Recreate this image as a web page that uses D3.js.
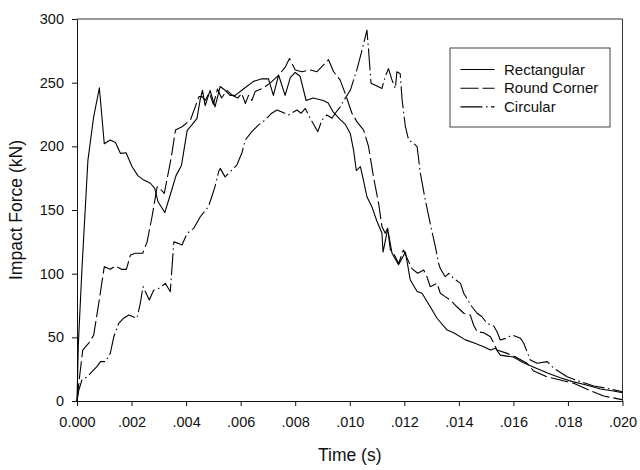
<!DOCTYPE html>
<html>
<head>
<meta charset="utf-8">
<script src="https://cdn.jsdelivr.net/npm/d3@7"></script>
<style>
  body { margin: 0; background: #fff; }
  svg { font-family: "Liberation Sans", Arial, sans-serif; }
</style>
</head>
<body>
<svg id="chart" width="640" height="470"></svg>
<script>
// [time (ms), impact force (kN)]
const rectangular = [
  [0, 0], [0.05, 45], [0.18, 103], [0.40, 189], [0.61, 223], [0.82, 246],
  [1.00, 202], [1.22, 205], [1.41, 203], [1.59, 194.5], [1.80, 195],
  [2.02, 184], [2.23, 177], [2.45, 173.5], [2.69, 171], [2.85, 167], [2.97, 156.5],
  [3.22, 148], [3.42, 162], [3.63, 177], [3.83, 185],
  [4.04, 212.5], [4.22, 217], [4.40, 222], [4.51, 236], [4.60, 244], [4.70, 232], [4.88, 244],
  [5.06, 231], [5.25, 247], [5.43, 244], [5.61, 240], [5.80, 240],
  [6.10, 245], [6.47, 251], [6.78, 253],
  [7.02, 253], [7.20, 240], [7.39, 256], [7.63, 240], [7.82, 254],
  [8.00, 258], [8.18, 255], [8.40, 236], [8.66, 238],
  [9.03, 236], [9.21, 234], [9.39, 227], [9.65, 221], [9.83, 217.5],
  [10.02, 210], [10.14, 197], [10.24, 181], [10.39, 184], [10.50, 173.5], [10.63, 160.4], [10.81, 152.6],
  [11.00, 141], [11.18, 132], [11.22, 117], [11.39, 135], [11.55, 116], [11.79, 107],
  [12.04, 117], [12.22, 95], [12.47, 86], [12.65, 84.6], [12.95, 74],
  [13.20, 65], [13.57, 55.7], [13.81, 53.6],
  [14.24, 48], [14.54, 45.8], [14.91, 42.6],
  [15.16, 40], [15.34, 41.4], [15.52, 36],
  [16.00, 34.5], [16.37, 30], [16.73, 26.7],
  [17.25, 22], [17.72, 18.3], [18.17, 15.2], [18.68, 12.6],
  [19.19, 9.4], [19.67, 7.9], [20.00, 6.5]
];

const roundCorner = [
  [0, 0], [0.08, 16.5], [0.21, 40], [0.43, 45.5], [0.61, 51.6], [0.80, 77],
  [1.00, 105.5], [1.22, 103.4], [1.41, 106], [1.63, 103.4], [1.81, 103.4], [1.96, 114.7],
  [2.14, 116], [2.41, 116], [2.57, 125], [2.75, 144.7], [2.94, 168.3],
  [3.09, 165.7], [3.20, 163], [3.46, 191.8], [3.61, 212.8], [3.85, 215.4],
  [4.16, 220.7], [4.47, 239], [4.59, 239], [4.70, 236], [4.85, 242],
  [5.00, 233], [5.15, 245], [5.30, 238], [5.50, 244], [5.70, 240], [5.90, 238],
  [6.04, 241.6], [6.17, 233.7], [6.29, 240], [6.41, 236], [6.53, 243], [6.84, 246],
  [7.10, 250], [7.40, 256], [7.63, 262], [7.79, 269],
  [8.00, 260], [8.25, 258.6], [8.55, 260], [8.80, 258.6],
  [9.04, 264], [9.22, 268], [9.41, 258.6], [9.65, 252], [9.83, 241.6],
  [10.08, 226], [10.26, 219.4], [10.51, 212.8], [10.69, 199.7], [10.87, 176],
  [11.06, 155], [11.18, 137], [11.30, 131.7], [11.39, 135.6], [11.49, 118.6], [11.61, 116], [11.79, 108],
  [11.97, 118.6], [12.16, 109.4], [12.28, 104], [12.49, 100.3], [12.71, 102.9], [12.83, 97.6], [12.95, 89.8],
  [13.20, 92.4], [13.32, 84.6], [13.50, 82], [13.69, 79.3], [13.93, 74],
  [14.18, 68.9], [14.42, 67.5], [14.54, 59.7], [14.67, 54.4], [14.91, 53.6],
  [15.16, 50.5], [15.40, 40], [15.77, 37.4], [16.07, 34.8], [16.50, 29.6], [16.73, 23.8],
  [17.24, 19], [17.72, 16.5], [18.21, 13.9], [18.70, 9.2],
  [19.31, 3.9], [19.93, 1.3], [20.00, 1]
];

const circular = [
  [0, 0], [0.06, 8], [0.18, 16.5], [0.37, 19], [0.55, 23], [0.73, 27], [0.86, 30.9],
  [1.04, 30.9], [1.22, 37.4], [1.35, 50.5], [1.53, 61], [1.71, 65], [1.90, 67.5],
  [2.20, 65], [2.32, 76.7], [2.42, 89.8], [2.65, 79.3], [2.81, 87],
  [3.00, 88.5], [3.24, 92.4], [3.42, 85.8], [3.55, 125], [3.71, 123.8], [3.85, 122.5],
  [4.04, 131.7], [4.28, 135.6], [4.52, 144.7], [4.82, 152.6], [4.94, 160.4],
  [5.06, 168.3], [5.19, 180], [5.25, 182.7], [5.43, 176], [5.61, 180], [5.86, 185.3],
  [6.04, 194.5], [6.17, 205], [6.41, 211.5], [6.65, 216.7], [6.90, 220.7],
  [7.14, 226], [7.33, 228.5], [7.51, 227], [7.75, 224.6], [7.94, 227],
  [8.06, 228.5], [8.22, 226], [8.37, 229.8], [8.55, 222], [8.83, 211.5], [8.98, 220.7],
  [9.16, 224.6], [9.35, 222], [9.47, 226], [9.65, 231], [9.83, 237.7],
  [10.02, 244], [10.26, 260], [10.45, 275.6], [10.57, 286], [10.63, 291.3], [10.69, 275.6],
  [10.78, 249.5], [10.94, 248], [11.18, 245.5], [11.30, 254.7], [11.42, 261], [11.55, 252],
  [11.67, 245.5], [11.73, 258.6], [11.85, 257], [11.92, 236.4],
  [12.04, 215.4], [12.16, 205], [12.34, 202.3], [12.47, 199.7], [12.59, 178.7], [12.77, 157.8], [12.95, 139.5],
  [13.14, 121], [13.26, 108], [13.32, 104], [13.50, 97.6], [13.63, 100.3], [13.81, 96.3],
  [14.06, 92.4], [14.18, 84.6], [14.48, 74], [14.67, 68.9], [14.85, 66.2],
  [15.03, 61], [15.28, 58.9], [15.40, 54.4], [15.52, 47.9], [15.71, 49.2], [15.95, 51.8],
  [16.26, 49.2], [16.38, 45.3], [16.50, 38.7], [16.62, 32.2], [16.87, 29.6],
  [17.24, 30.9], [17.48, 25.7], [17.97, 19], [18.46, 15.2], [18.95, 11.8],
  [19.44, 9.9], [20.00, 7.3]
];

const seriesNames = ["Rectangular", "Round Corner", "Circular"];
const seriesDash = ["none", "18,4", "22,3.5,1.5,3.5"];
const xTicks = [0, 0.002, 0.004, 0.006, 0.008, 0.010, 0.012, 0.014, 0.016, 0.018, 0.020];
const yTicks = [0, 50, 100, 150, 200, 250, 300];

const svg = d3.select("#chart");
const plotLeft = 77, plotRight = 622.5, plotTop = 19, plotBottom = 401;

const x = d3.scaleLinear().domain([0, 0.020]).range([plotLeft, plotRight]);
const y = d3.scaleLinear().domain([0, 300]).range([plotBottom, plotTop]);

// frame (top and right)
svg.append("path")
  .attr("d", `M${plotLeft},${plotTop}H${plotRight}V${plotBottom}`)
  .attr("fill", "none")
  .attr("stroke", "#333")
  .attr("stroke-width", 1);

const fmtX = d => d === 0 ? "0.000" : d3.format(".3f")(d).replace(/^0/, "");

const xAxis = svg.append("g")
  .attr("transform", `translate(0,${plotBottom})`)
  .call(d3.axisBottom(x).tickValues(xTicks).tickFormat(fmtX).tickSizeInner(5).tickSizeOuter(0).tickPadding(11));

const yAxis = svg.append("g")
  .attr("transform", `translate(${plotLeft},0)`)
  .call(d3.axisLeft(y).tickValues(yTicks).tickSizeInner(5).tickSizeOuter(0).tickPadding(8));

[xAxis, yAxis].forEach(g => {
  g.selectAll("text").attr("font-size", 14.5).attr("font-family", "Liberation Sans, Arial, sans-serif").attr("fill", "#111");
  g.selectAll("line, path").attr("stroke", "#111");
});

// axis titles
svg.append("text")
  .attr("x", (plotLeft + plotRight) / 2)
  .attr("y", 461)
  .attr("text-anchor", "middle")
  .attr("font-size", 17.5)
  .attr("fill", "#111")
  .text("Time (s)");

svg.append("text")
  .attr("transform", `translate(22,${(plotTop + plotBottom) / 2}) rotate(-90)`)
  .attr("text-anchor", "middle")
  .attr("font-size", 17.5)
  .attr("fill", "#111")
  .text("Impact Force (kN)");

// curves
const line = d3.line()
  .x(d => x(d[0] / 1000))
  .y(d => y(d[1]));

const allSeries = [rectangular, roundCorner, circular];
svg.append("g")
  .selectAll("path")
  .data(allSeries)
  .enter().append("path")
  .attr("d", line)
  .attr("fill", "none")
  .attr("stroke", "#000")
  .attr("stroke-width", 1.1)
  .attr("stroke-linejoin", "round")
  .attr("stroke-dasharray", (d, i) => seriesDash[i]);

// legend
const legend = svg.append("g").attr("transform", "translate(450,48)");
legend.append("rect")
  .attr("width", 160)
  .attr("height", 79)
  .attr("fill", "#fff")
  .attr("stroke", "#444")
  .attr("stroke-width", 1);

seriesNames.forEach((name, i) => {
  const ly = 21.5 + i * 18.7;
  legend.append("line")
    .attr("x1", 10.5).attr("x2", 44.5)
    .attr("y1", ly).attr("y2", ly)
    .attr("stroke", "#000")
    .attr("stroke-width", 1.1)
    .attr("stroke-dasharray", seriesDash[i]);
  legend.append("text")
    .attr("x", 54)
    .attr("y", ly + 5)
    .attr("font-size", 15)
    .attr("fill", "#111")
    .text(name);
});
</script>
</body>
</html>
